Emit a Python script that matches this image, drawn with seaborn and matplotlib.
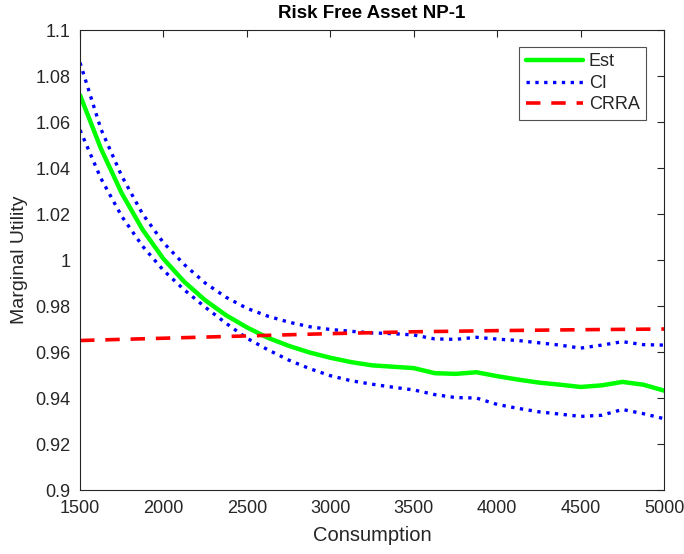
import matplotlib
matplotlib.use('Agg')
import matplotlib.pyplot as plt
import seaborn as sns
import pandas as pd

consumption = [1500, 1625, 1750, 1875, 2000, 2125, 2250, 2375, 2500, 2625, 2750, 2875,
               3000, 3125, 3250, 3375, 3500, 3625, 3750, 3875, 4000, 4125, 4250, 4375,
               4500, 4625, 4750, 4875, 5000]
est = [1.0717, 1.0485, 1.029, 1.0132, 1.0005, 0.9905, 0.9825, 0.976, 0.9707, 0.9662, 0.9627, 0.9598,
       0.9575, 0.9556, 0.9542, 0.9536, 0.9530, 0.9508, 0.9505, 0.9512, 0.9495, 0.948, 0.9467, 0.9458,
       0.9448, 0.9455, 0.947, 0.9458, 0.9432]
ci_upper = [1.0858, 1.057, 1.0365, 1.020, 1.0075, 0.998, 0.990, 0.9838, 0.979, 0.9756, 0.973, 0.971,
            0.9698, 0.969, 0.9683, 0.968, 0.9674, 0.9657, 0.9655, 0.9664, 0.9656, 0.965, 0.964, 0.963,
            0.9617, 0.963, 0.9645, 0.9632, 0.963]
ci_lower = [1.0565, 1.0355, 1.019, 1.006, 0.9955, 0.987, 0.9795, 0.9725, 0.966, 0.961, 0.9565, 0.9528,
            0.9497, 0.9475, 0.946, 0.9447, 0.9435, 0.9415, 0.9402, 0.9400, 0.9372, 0.9355, 0.934, 0.933,
            0.932, 0.9325, 0.935, 0.9332, 0.931]
crra_x = [1500, 2000, 2500, 3000, 3500, 4000, 4500, 5000]
crra = [0.965, 0.966, 0.967, 0.968, 0.9688, 0.9693, 0.9697, 0.970]

sns.set_style('white')
plt.rcParams['font.family'] = ['Liberation Sans', 'DejaVu Sans']

df = pd.DataFrame({'Consumption': consumption, 'Est': est, 'Upper': ci_upper, 'Lower': ci_lower})

fig = plt.figure(figsize=(6.84, 5.54), dpi=100)
ax = fig.add_axes([0.117, 0.1155, 0.854, 0.8303])

sns.lineplot(data=df, x='Consumption', y='Est', color='#00ff00', lw=3.2, label='Est', ax=ax)
sns.lineplot(data=df, x='Consumption', y='Upper', color='#0000ff', lw=2.4, ls=':', label='CI', ax=ax)
sns.lineplot(data=df, x='Consumption', y='Lower', color='#0000ff', lw=2.4, ls=':', ax=ax)
sns.lineplot(x=crra_x, y=crra, color='#ff0000', lw=2.6, ls=(0, (4, 3)), label='CRRA', ax=ax)

ax.set_xlim(1500, 5000)
ax.set_ylim(0.9, 1.1)
ax.set_xticks(range(1500, 5001, 500))
ax.set_yticks([0.9, 0.92, 0.94, 0.96, 0.98, 1.0, 1.02, 1.04, 1.06, 1.08, 1.1])
ax.set_yticklabels(['0.9', '0.92', '0.94', '0.96', '0.98', '1', '1.02', '1.04', '1.06', '1.08', '1.1'])
ax.tick_params(direction='in', top=True, right=True, labelsize=13, colors='#262626', length=5)
ax.tick_params(axis='x', pad=7)
ax.tick_params(axis='y', pad=7)
for s in ax.spines.values():
    s.set_color('#262626')
    s.set_linewidth(0.8)
ax.set_xlabel('Consumption', fontsize=14.5, color='#262626', labelpad=7)
ax.set_ylabel('Marginal Utility', fontsize=14, color='#262626', labelpad=5)
ax.set_title('Risk Free Asset NP-1', fontsize=13.5, fontweight='bold', color='#000000', pad=9)
leg = ax.legend(loc='upper right', bbox_to_anchor=(0.969, 0.963), borderaxespad=0, fontsize=13,
                frameon=True, fancybox=False, edgecolor='#262626', handlelength=3.2, borderpad=0.35,
                labelspacing=0.25, handletextpad=0.3)
leg.get_frame().set_linewidth(0.8)

plt.savefig('out.png', dpi=100)
plt.close()
